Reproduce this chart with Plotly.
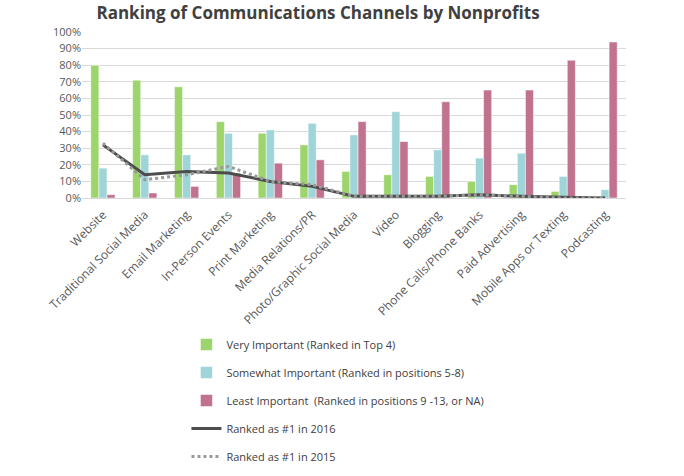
import plotly.graph_objects as go

categories = ["Website", "Traditional Social Media", "Email Marketing", "In-Person Events",
              "Print Marketing", "Media Relations/PR", "Photo/Graphic Social Media", "Video",
              "Blogging", "Phone Calls/Phone Banks", "Paid Advertising", "Mobile Apps or Texting",
              "Podcasting"]
very_important = [80, 71, 67, 46, 39, 32, 16, 14, 13, 10, 8, 4, 0]
somewhat_important = [18, 26, 26, 39, 41, 45, 38, 52, 29, 24, 27, 13, 5]
least_important = [2, 3, 7, 15, 21, 23, 46, 34, 58, 65, 65, 83, 94]
ranked1_2016 = [32, 14, 16, 15, 10, 7, 1, 1, 1, 2, 1, 0.5, 0]
ranked1_2015 = [33, 11, 14, 19, 10, 8, 1, 1, 1, 2, 1, 0, 0]
y_ticks = [0, 10, 20, 30, 40, 50, 60, 70, 80, 90, 100]

FONT = "Open Sans, Noto Sans, sans-serif"
TXT = "#595959"

fig = go.Figure()
fig.add_trace(go.Bar(x=categories, y=very_important, name="Very Important (Ranked in Top 4)",
                     marker=dict(color="#9dd46c", line=dict(color="white", width=0.5)),
                     legendgroup="a"))
fig.add_trace(go.Bar(x=categories, y=somewhat_important, name="Somewhat Important (Ranked in positions 5-8)",
                     marker=dict(color="#9fd4d9", line=dict(color="white", width=0.5)),
                     legendgroup="b"))
fig.add_trace(go.Bar(x=categories, y=least_important, name="Least Important  (Ranked in positions 9 -13, or NA)",
                     marker=dict(color="#c0728e", line=dict(color="white", width=0.5)),
                     legendgroup="c"))
fig.add_trace(go.Scatter(x=categories, y=ranked1_2016, name="Ranked as #1 in 2016", mode="lines",
                         line=dict(color="#4d4d4d", width=3), legendgroup="d"))
fig.add_trace(go.Scatter(x=categories, y=ranked1_2015, name="Ranked as #1 in 2015", mode="lines",
                         line=dict(color="#9a9a9a", width=3, dash="dot"), legendgroup="e"))

fig.update_layout(
    width=684, height=476,
    margin=dict(l=82, r=58, t=32, b=278, autoexpand=False),
    paper_bgcolor="white", plot_bgcolor="white",
    font=dict(family=FONT, size=11, color=TXT),
    title=dict(text="<b>Ranking of Communications Channels by Nonprofits</b>",
               x=0.465, xanchor="center", y=0.985, yanchor="top",
               font=dict(family=FONT, size=17, color="#404040")),
    barmode="group", bargap=0.42, bargroupgap=0.0,
    showlegend=True,
    legend=dict(x=0.192, y=-0.795, xanchor="left", yanchor="top", orientation="v",
                tracegroupgap=9, font=dict(family=FONT, size=11, color="#404040"),
                itemwidth=30, traceorder="grouped"),
    xaxis=dict(tickangle=-45, tickfont=dict(size=12, color=TXT), showgrid=False,
               showline=True, linecolor="#d9d9d9", ticks="outside", ticklen=4,
               tickcolor="rgba(0,0,0,0)", automargin=False),
    yaxis=dict(range=[0, 100], tickvals=y_ticks, ticktext=[f"{v}%" for v in y_ticks],
               showgrid=True, gridcolor="#d9d9d9", gridwidth=1, zeroline=False,
               tickfont=dict(size=11, color=TXT), ticks="", automargin=False),
)

fig.write_html("out.html")
